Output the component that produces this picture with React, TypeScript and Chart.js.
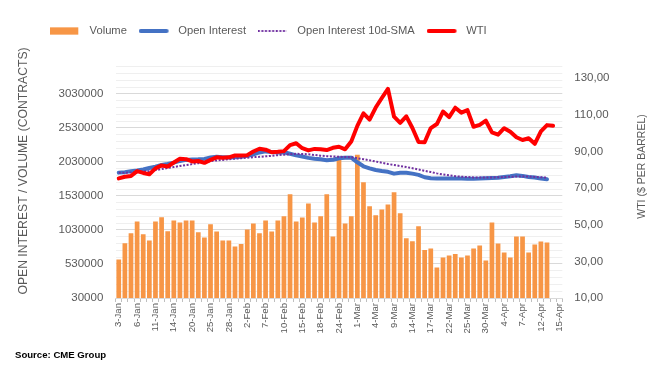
import React, { useEffect, useRef } from 'react';
import { Chart, registerables } from 'chart.js';

Chart.register(...registerables);

// ---------- DATA ----------
const DATES = [
  '3-Jan', '4-Jan', '5-Jan', '6-Jan', '7-Jan', '10-Jan', '11-Jan', '12-Jan', '13-Jan', '14-Jan',
  '18-Jan', '19-Jan', '20-Jan', '21-Jan', '24-Jan', '25-Jan', '26-Jan', '27-Jan', '28-Jan', '31-Jan',
  '1-Feb', '2-Feb', '3-Feb', '4-Feb', '7-Feb', '8-Feb', '9-Feb', '10-Feb', '11-Feb', '14-Feb',
  '15-Feb', '16-Feb', '17-Feb', '18-Feb', '22-Feb', '23-Feb', '24-Feb', '25-Feb', '28-Feb', '1-Mar',
  '2-Mar', '3-Mar', '4-Mar', '7-Mar', '8-Mar', '9-Mar', '10-Mar', '11-Mar', '14-Mar', '15-Mar',
  '16-Mar', '17-Mar', '18-Mar', '21-Mar', '22-Mar', '23-Mar', '24-Mar', '25-Mar', '28-Mar', '29-Mar',
  '30-Mar', '31-Mar', '1-Apr', '4-Apr', '5-Apr', '6-Apr', '7-Apr', '8-Apr', '11-Apr', '12-Apr',
  '13-Apr', '14-Apr', '15-Apr',
];

const VOLUME = [
  597000, 836000, 983000, 1155000, 968000, 876000, 1155000, 1218000, 1012000, 1169000,
  1140000, 1169000, 1169000, 998000, 920000, 1115000, 1008000, 876000, 876000, 788000,
  822000, 1037000, 1125000, 983000, 1169000, 1008000, 1169000, 1232000, 1555000, 1155000,
  1213000, 1419000, 1140000, 1232000, 1555000, 935000, 2073000, 1125000, 1232000, 2137000,
  1731000, 1379000, 1247000, 1330000, 1404000, 1584000, 1276000, 910000, 866000, 1086000,
  734000, 759000, 480000, 627000, 656000, 675000, 627000, 656000, 759000, 803000,
  583000, 1140000, 832000, 700000, 627000, 935000, 935000, 700000, 817000, 861000,
  847000,
];

const OPEN_INTEREST = [
  1873000, 1880000, 1895000, 1905000, 1920000, 1940000, 1960000, 1985000, 2000000, 2020000,
  2045000, 2060000, 2065000, 2068000, 2075000, 2095000, 2105000, 2100000, 2095000, 2100000,
  2105000, 2120000, 2140000, 2170000, 2185000, 2175000, 2170000, 2172000, 2150000, 2127000,
  2110000, 2090000, 2078000, 2070000, 2055000, 2062000, 2085000, 2090000, 2093000, 2025000,
  1966000, 1935000, 1912000, 1897000, 1885000, 1858000, 1870000, 1870000, 1858000, 1840000,
  1805000, 1790000, 1785000, 1785000, 1785000, 1785000, 1785000, 1783000, 1783000, 1785000,
  1790000, 1795000, 1799000, 1810000, 1819000, 1833000, 1825000, 1810000, 1800000, 1785000,
  1775000,
];

const OI_SMA10 = [
  1870000, 1872000, 1875000, 1880000, 1888000, 1897000, 1910000, 1925000, 1940000, 1955000,
  1970000, 1985000, 1998000, 2012000, 2028000, 2043000, 2052000, 2060000, 2070000, 2078000,
  2085000, 2092000, 2100000, 2105000, 2112000, 2120000, 2130000, 2137000, 2145000, 2150000,
  2147000, 2142000, 2132000, 2122000, 2115000, 2110000, 2106000, 2103000, 2100000, 2085000,
  2070000, 2054000, 2036000, 2018000, 2000000, 1985000, 1970000, 1955000, 1938000, 1920000,
  1900000, 1882000, 1862000, 1845000, 1833000, 1820000, 1812000, 1808000, 1803000, 1800000,
  1800000, 1802000, 1805000, 1808000, 1812000, 1815000, 1818000, 1815000, 1810000, 1805000,
  1800000,
];

const WTI = [
  75.3, 76.2, 76.6, 79.3, 78.3, 77.6, 80.8, 82.4, 81.8, 84.0,
  86.0, 85.8, 84.6, 84.8, 83.8, 85.4, 86.8, 86.6, 86.8, 87.8,
  87.8, 88.0, 90.0, 91.5, 91.0, 89.6, 89.8, 90.2, 93.5, 94.5,
  91.8, 90.6, 91.4, 91.2, 90.8, 92.0, 92.6, 91.2, 95.4, 104.0,
  110.8, 107.4, 114.0, 119.2, 124.2, 109.0, 105.6, 109.2, 102.8, 95.2,
  95.0, 102.8, 105.0, 111.8, 108.8, 113.9, 111.2, 112.6, 103.5, 104.5,
  106.8, 100.4, 99.2, 102.7, 100.8, 97.8, 96.3, 97.2, 94.2, 101.0,
  104.4, 104.0,
];

const LEFT_MAJOR_TICKS = [30000, 530000, 1030000, 1530000, 2030000, 2530000, 3030000];
const LEFT_MINOR_STEP = 100000;
const LEFT_MIN = 30000;
const LEFT_MAX = 3430000;
const RIGHT_TICKS = [10, 30, 50, 70, 90, 110, 130];
const RIGHT_MIN = 10;
const RIGHT_MAX = 136.3;

const LEGEND_ITEMS = [
  { text: 'Volume', color: '#F79646', style: 'rect', len: 28.3, width: 7.3, dash: [] as number[] },
  { text: 'Open Interest', color: '#4472C4', style: 'line', len: 30, width: 4, dash: [] as number[] },
  { text: 'Open Interest 10d-SMA', color: '#7030A0', style: 'dots', len: 29, width: 2, dash: [2, 1.6] },
  { text: 'WTI', color: '#FF0000', style: 'line', len: 30, width: 4, dash: [] as number[] },
];

// ---------- LAYOUT / STYLE ----------
const W = 666;
const H = 379;
const PLOT = { left: 115.7, right: 562.3, top: 66.7, bottom: 298 };
const FONT = "'Liberation Sans', Arial, sans-serif";
const TEXT = '#595959';
const LEGEND_FONT = 11.2;
const LEGEND_MARK_W = 34;

function makeMarker(it: (typeof LEGEND_ITEMS)[number]) {
  const c = document.createElement('canvas');
  c.width = LEGEND_MARK_W;
  c.height = 10;
  const g = c.getContext('2d') as CanvasRenderingContext2D;
  g.fillStyle = it.color;
  g.strokeStyle = it.color;
  if (it.style === 'rect') {
    g.fillRect(0, 5 - it.width / 2, it.len, it.width);
  } else {
    g.lineWidth = it.width;
    g.lineCap = it.style === 'line' ? 'round' : 'butt';
    g.setLineDash(it.dash);
    g.beginPath();
    const pad = it.style === 'line' ? it.width / 2 : 0;
    g.moveTo(pad, 5);
    g.lineTo(it.len - pad, 5);
    g.stroke();
  }
  return c;
}

export default function App() {
  const ref = useRef<HTMLCanvasElement>(null);

  useEffect(() => {
    document.body.style.margin = '0';
    const leftGridTicks: number[] = [];
    for (let v = LEFT_MIN; v <= LEFT_MAX; v += LEFT_MINOR_STEP) leftGridTicks.push(v);
    const markers = LEGEND_ITEMS.map(makeMarker);

    const legendPos = {
      id: 'legendPos',
      beforeDraw(chart: any) {
        const lg = chart.legend;
        if (lg) {
          const w = lg.right - lg.left;
          lg.left = 50 - 11.7;
          lg.right = lg.left + w;
          lg.top = 31 - 11.7 - LEGEND_FONT / 2;
        }
      },
    };

    const axisTitles = {
      id: 'axisTitles',
      afterDraw(chart: any) {
        const ctx = chart.ctx;
        const items = [
          { text: 'OPEN INTEREST / VOLUME (CONTRACTS)', x: 24, y: 171, font: `12.2px ${FONT}` },
          { text: 'WTI ($ PER BARREL)', x: 642.5, y: 166.5, font: `10.5px ${FONT}` },
        ];
        items.forEach((t) => {
          ctx.save();
          ctx.translate(t.x, t.y);
          ctx.rotate(-Math.PI / 2);
          ctx.font = t.font;
          ctx.fillStyle = TEXT;
          ctx.textAlign = 'center';
          ctx.textBaseline = 'middle';
          ctx.fillText(t.text, 0, 0);
          ctx.restore();
        });
      },
    };

    const chart = new Chart(ref.current as HTMLCanvasElement, {
      type: 'bar',
      data: {
        labels: DATES,
        datasets: [
          {
            type: 'bar',
            label: 'Volume',
            data: VOLUME,
            backgroundColor: '#F79646',
            borderWidth: 0,
            yAxisID: 'y',
            order: 4,
            barPercentage: 0.77,
            categoryPercentage: 1,
          },
          {
            type: 'line',
            label: 'Open Interest',
            data: OPEN_INTEREST,
            borderColor: '#4472C4',
            backgroundColor: '#4472C4',
            borderWidth: 4,
            pointRadius: 0,
            borderJoinStyle: 'round',
            borderCapStyle: 'round',
            yAxisID: 'y',
            order: 3,
          },
          {
            type: 'line',
            label: 'Open Interest 10d-SMA',
            data: OI_SMA10,
            borderColor: '#7030A0',
            backgroundColor: '#7030A0',
            borderWidth: 2,
            borderDash: [2, 1.6],
            pointRadius: 0,
            yAxisID: 'y',
            order: 2,
          },
          {
            type: 'line',
            label: 'WTI',
            data: WTI,
            borderColor: '#FF0000',
            backgroundColor: '#FF0000',
            borderWidth: 4,
            pointRadius: 0,
            borderJoinStyle: 'round',
            borderCapStyle: 'round',
            yAxisID: 'y1',
            order: 1,
          },
        ],
      } as any,
      options: {
        animation: false,
        responsive: true,
        maintainAspectRatio: false,
        layout: { padding: { top: PLOT.top - (LEGEND_FONT + 11.7 + 10), left: 0, right: 0, bottom: 0 } },
        plugins: {
          tooltip: { enabled: false },
          legend: {
            position: 'top',
            align: 'start',
            labels: {
              usePointStyle: true,
              pointStyleWidth: LEGEND_MARK_W,
              boxHeight: 10,
              padding: 11.7,
              color: TEXT,
              font: { family: FONT, size: LEGEND_FONT },
              generateLabels: () =>
                LEGEND_ITEMS.map((it, i) => ({
                  text: it.text,
                  fillStyle: it.color,
                  strokeStyle: it.color,
                  lineWidth: 0,
                  pointStyle: markers[i],
                  hidden: false,
                  datasetIndex: i,
                  fontColor: TEXT,
                })) as any,
            },
          },
        },
        scales: {
          x: {
            offset: true,
            grid: {
              display: true,
              drawOnChartArea: false,
              drawTicks: true,
              tickLength: 4,
              tickColor: '#bfbfbf',
              offset: true,
            },
            border: { display: true, color: '#d9d9d9' },
            ticks: {
              autoSkip: false,
              minRotation: 90,
              maxRotation: 90,
              padding: 1,
              color: TEXT,
              font: { family: FONT, size: 9.6 },
              callback: (_v: any, i: number) => (i % 3 === 0 ? DATES[i] : ''),
            },
            afterFit: (s: any) => {
              s.height = H - PLOT.bottom;
            },
          },
          y: {
            position: 'left',
            min: LEFT_MIN,
            max: LEFT_MAX,
            afterBuildTicks: (s: any) => {
              s.ticks = leftGridTicks.map((v) => ({ value: v }));
            },
            ticks: {
              autoSkip: false,
              padding: 12.4,
              color: TEXT,
              font: { family: FONT, size: 11.5 },
              callback: (v: any) => (LEFT_MAJOR_TICKS.includes(Number(v)) ? String(v) : ''),
            },
            grid: {
              drawTicks: false,
              color: (c: any) =>
                c.tick && LEFT_MAJOR_TICKS.includes(c.tick.value) ? '#d9d9d9' : '#efefef',
            },
            border: { display: false },
            afterFit: (s: any) => {
              s.width = PLOT.left;
            },
          },
          y1: {
            position: 'right',
            min: RIGHT_MIN,
            max: RIGHT_MAX,
            afterBuildTicks: (s: any) => {
              s.ticks = RIGHT_TICKS.map((v) => ({ value: v }));
            },
            ticks: {
              autoSkip: false,
              padding: 12,
              color: TEXT,
              font: { family: FONT, size: 11.5 },
              callback: (v: any) => Number(v).toFixed(2).replace('.', ','),
            },
            grid: { drawOnChartArea: false, drawTicks: false },
            border: { display: false },
            afterFit: (s: any) => {
              s.width = W - PLOT.right;
            },
          },
        },
      } as any,
      plugins: [legendPos, axisTitles],
    });
    return () => chart.destroy();
  }, []);

  return (
    <div style={{ position: 'relative', width: W, height: H }}>
      <canvas ref={ref} />
      <div
        style={{
          position: 'absolute',
          left: 15,
          top: 349,
          font: `bold 9.6px ${FONT}`,
          color: '#000',
          whiteSpace: 'nowrap',
        }}
      >
        Source: CME Group
      </div>
    </div>
  );
}
